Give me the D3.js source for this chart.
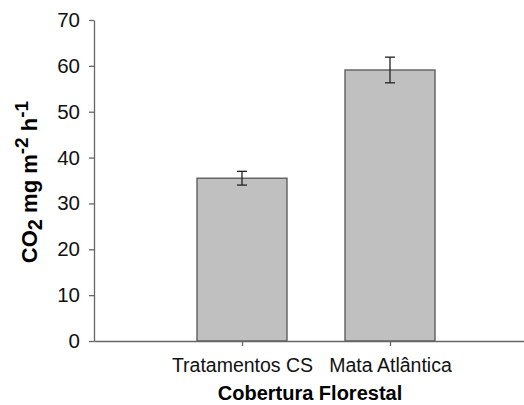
<!DOCTYPE html>
<html>
<head>
<meta charset="utf-8">
<script src="https://cdn.jsdelivr.net/npm/d3@7"></script>
<style>
  body { margin: 0; background: #fff; }
  svg { display: block; font-family: Arial, "Liberation Sans", sans-serif; }
</style>
</head>
<body>
<div id="chart"></div>
<script>
const categories = ['Tratamentos CS', 'Mata Atlântica'];
const means = [35.5, 59.1];
const errors = [1.5, 2.8];
const yTicks = [0, 10, 20, 30, 40, 50, 60, 70];

const width = 524;
const height = 405;

const svg = d3.select('#chart')
  .append('svg')
  .attr('width', width)
  .attr('height', height);

// category slots 1 and 2 on a 0..3 axis, like the original plot
const x = d3.scaleLinear().domain([0, categories.length + 1]).range([94, 538]);
const y = d3.scaleLinear().domain([0, 70]).range([341, 20]);
const barWidth = 90;
const axisColor = '#666';

// y axis
const yAxis = svg.append('g')
  .attr('transform', 'translate(94,0)')
  .call(d3.axisLeft(y).tickValues(yTicks).tickSize(5).tickSizeOuter(0).tickPadding(9));
yAxis.select('.domain').attr('stroke', axisColor).attr('stroke-width', 1.3);
yAxis.selectAll('.tick line').attr('stroke', axisColor).attr('stroke-width', 1.3);
yAxis.selectAll('.tick text')
  .attr('fill', '#111')
  .style('font-size', '20.5px')
  .style('font-family', 'Arial, "Liberation Sans", sans-serif');

// bars
const bars = svg.append('g');
bars.selectAll('rect')
  .data(means)
  .join('rect')
  .attr('x', (d, i) => x(i + 1) - barWidth / 2)
  .attr('y', d => y(d))
  .attr('width', barWidth)
  .attr('height', d => y(0) - y(d))
  .attr('fill', '#c0c0c0')
  .attr('stroke', '#555')
  .attr('stroke-width', 1.3);

// error bars
const err = svg.append('g').attr('stroke', '#222').attr('stroke-width', 1.3);
means.forEach((m, i) => {
  const cx = x(i + 1);
  err.append('line')
    .attr('x1', cx).attr('x2', cx)
    .attr('y1', y(m + errors[i])).attr('y2', y(m - errors[i]));
  err.append('line')
    .attr('x1', cx - 5).attr('x2', cx + 5)
    .attr('y1', y(m + errors[i])).attr('y2', y(m + errors[i]));
  err.append('line')
    .attr('x1', cx - 5).attr('x2', cx + 5)
    .attr('y1', y(m - errors[i])).attr('y2', y(m - errors[i]));
});

// x axis
const xAxis = svg.append('g')
  .attr('transform', `translate(0,${y(0)})`)
  .call(d3.axisBottom(x)
    .tickValues(categories.map((c, i) => i + 1))
    .tickFormat((d) => categories[d - 1])
    .tickSize(5).tickSizeOuter(0).tickPadding(12));
xAxis.select('.domain').attr('stroke', axisColor).attr('stroke-width', 1.3);
xAxis.selectAll('.tick line').attr('stroke', axisColor).attr('stroke-width', 1.3);
xAxis.selectAll('.tick text')
  .attr('fill', '#111')
  .style('font-size', '19.5px')
  .style('font-family', 'Arial, "Liberation Sans", sans-serif');

// axis titles
svg.append('text')
  .attr('x', 310)
  .attr('y', 400)
  .attr('text-anchor', 'middle')
  .attr('fill', '#000')
  .style('font-size', '20px')
  .style('font-weight', 'bold')
  .text('Cobertura Florestal');

const yTitle = svg.append('text')
  .attr('transform', 'translate(37,182) rotate(-90)')
  .attr('text-anchor', 'middle')
  .attr('fill', '#000')
  .style('font-size', '22px')
  .style('font-weight', 'bold');
yTitle.append('tspan').text('CO');
yTitle.append('tspan').attr('dy', 5).style('font-size', '20px').text('2');
yTitle.append('tspan').attr('dy', -5).text(' mg m');
yTitle.append('tspan').attr('dy', -9).style('font-size', '19px').text('-2');
yTitle.append('tspan').attr('dy', 9).text(' h');
yTitle.append('tspan').attr('dy', -9).style('font-size', '19px').text('-1');
</script>
</body>
</html>
